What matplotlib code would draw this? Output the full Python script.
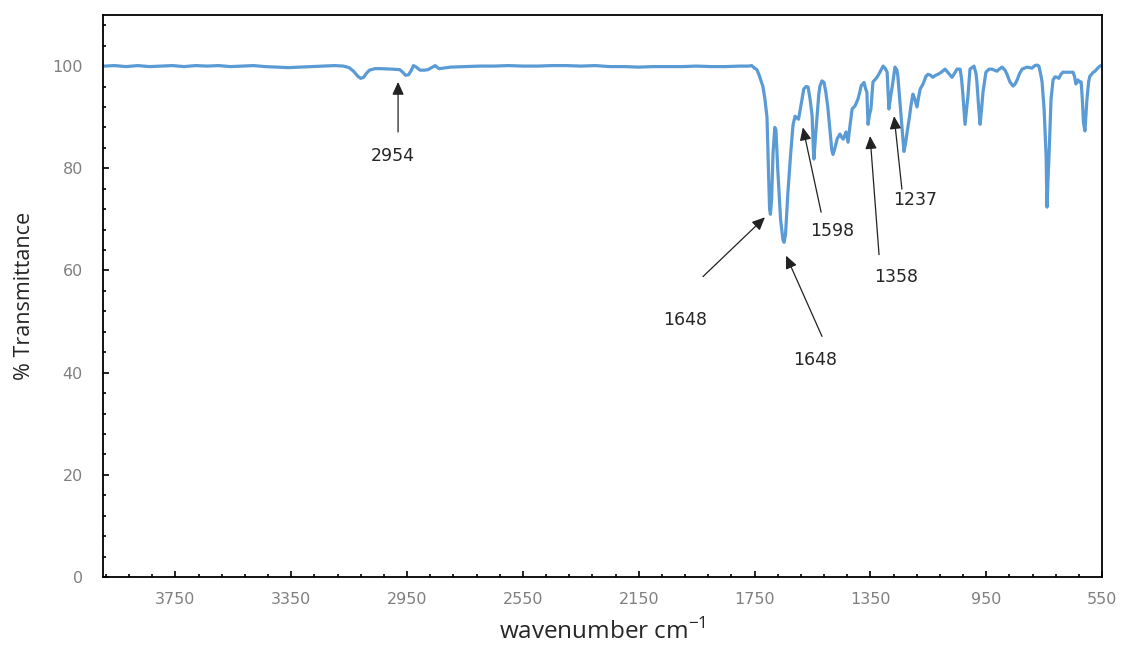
import matplotlib
matplotlib.use("Agg")
import matplotlib.pyplot as plt
from matplotlib.ticker import MultipleLocator

# ---- spectrum data (wavenumber cm-1, % transmittance) ----
wavenumber = [
    3995, 3960, 3920, 3880, 3840, 3800, 3760, 3720, 3680, 3640, 3600, 3560, 3520, 3480,
    3440, 3400, 3360, 3320, 3280, 3240, 3200, 3170, 3150, 3135, 3120, 3110, 3100, 3090,
    3080, 3060, 3040, 3000, 2975, 2965, 2955, 2945, 2935, 2928, 2918, 2905, 2890, 2878,
    2865, 2853, 2840, 2825, 2800, 2750, 2700, 2650, 2600, 2550, 2500, 2450, 2400, 2350,
    2300, 2250, 2200, 2150, 2100, 2050, 2000, 1950, 1900, 1850, 1800, 1770, 1760, 1750,
    1742, 1735, 1728, 1721, 1714, 1707, 1702, 1698, 1695, 1691, 1686, 1680, 1676, 1670,
    1660, 1652, 1648, 1643, 1635, 1625, 1617, 1610, 1603, 1598, 1592, 1586, 1580, 1572,
    1565, 1558, 1551, 1547, 1545, 1541, 1534, 1528, 1524, 1517, 1510, 1504, 1497, 1489,
    1483, 1479, 1472, 1465, 1455, 1448, 1444, 1438, 1434, 1430, 1427, 1420, 1413, 1403,
    1393, 1386, 1382, 1372, 1366, 1362, 1358, 1353, 1348, 1341, 1332, 1327, 1317, 1306,
    1298, 1292, 1288, 1286, 1280, 1272, 1265, 1258, 1255, 1248, 1241, 1234, 1228, 1223,
    1215, 1210, 1203, 1196, 1189, 1183, 1178, 1168, 1158, 1151, 1142, 1134, 1125, 1116,
    1105, 1092, 1080, 1068, 1060, 1051, 1040, 1035, 1030, 1023, 1013, 1006, 992, 985,
    982, 976, 971, 966, 961, 951, 940, 930, 913, 905, 895, 885, 878, 868, 857, 850, 843,
    835, 826, 809, 800, 792, 782, 774, 768, 762, 757, 750, 743, 740, 737, 733, 726, 719,
    712, 705, 699, 692, 685, 675, 661, 650, 645, 640, 636, 633, 628, 622, 618, 614, 609,
    605, 602, 596, 592, 580, 574, 565, 557, 550,
]
transmittance = [
    100.0, 100.1, 99.9, 100.1, 99.9, 100.0, 100.1, 99.9, 100.1, 100.0, 100.1, 99.9, 100.0, 100.1,
    99.9, 99.8, 99.7, 99.8, 99.9, 100.0, 100.1, 100.0, 99.7, 99.0, 98.0, 97.6, 97.8, 98.6,
    99.2, 99.5, 99.5, 99.4, 99.3, 98.8, 98.2, 98.3, 99.2, 100.1, 99.8, 99.2, 99.2, 99.3,
    99.7, 100.1, 99.5, 99.6, 99.8, 99.9, 100.0, 100.0, 100.1, 100.0, 100.0, 100.1, 100.1, 100.0,
    100.1, 99.9, 99.9, 99.8, 99.9, 99.9, 99.9, 100.0, 99.9, 99.9, 100.0, 100.0, 100.1, 99.6,
    99.3, 98.4, 97.2, 96.0, 93.5, 90.0, 80.0, 72.0, 71.0, 74.0, 83.0, 88.0, 87.5, 80.0,
    70.0, 66.0, 65.5, 67.0, 75.0, 83.0, 88.5, 90.2, 89.8, 89.6, 91.5, 93.5, 95.5, 96.0,
    95.9, 93.5, 90.2, 84.0, 81.8, 85.0, 90.2, 94.5, 96.1, 97.1, 96.8, 95.0, 92.0, 87.1,
    83.5, 82.7, 84.0, 85.7, 86.7, 86.0, 85.7, 86.5, 87.1, 86.0, 85.1, 88.5, 91.6, 92.2,
    93.5, 95.0, 96.1, 96.8, 95.5, 94.9, 88.6, 90.5, 91.6, 96.9, 97.5, 97.8, 98.8, 100.0,
    99.5, 98.8, 94.0, 91.6, 94.0, 96.9, 99.8, 99.2, 98.0, 93.0, 88.2, 83.3, 85.0, 87.1,
    90.0, 92.2, 94.5, 93.5, 92.0, 94.0, 95.5, 96.5, 98.0, 98.4, 98.2, 97.8, 98.2, 98.4,
    98.8, 99.4, 98.6, 97.8, 98.5, 99.4, 99.4, 97.5, 94.1, 88.6, 94.1, 99.4, 100.0, 98.5,
    96.9, 92.0, 88.6, 91.5, 94.9, 98.8, 99.4, 99.4, 99.0, 99.4, 99.8, 99.2, 98.4, 96.9, 96.1, 96.5, 97.3,
    98.5, 99.4, 99.8, 99.7, 99.6, 100.1, 100.2, 100.0, 98.5, 96.9, 91.6, 82.4, 72.4, 77.0, 82.4, 93.5, 97.3,
    97.9, 97.8, 97.6, 98.4, 98.8, 98.8, 98.8, 98.8, 98.0, 96.5, 97.0, 97.3, 96.9, 96.9, 93.5, 89.0, 87.3,
    91.0, 93.5, 97.0, 98.0, 98.8, 99.0, 99.6, 100.0, 100.2,
]

# ---- annotations ----
ann_labels = ["2954", "1648", "1648", "1598", "1358", "1237"]
ann_text_xy = [(2998, 82.4), (1990, 50.4), (1541, 42.5), (1482, 67.8), (1261, 58.8), (1196, 73.7)]
ann_start_xy = [(2981, 87.1), (1928, 58.8), (1517, 47.1), (1520, 71.4), (1320, 63.1), (1241, 75.9)]
ann_tip_xy = [(2981, 96.9), (1714, 70.4), (1641, 62.9), (1583, 88.0), (1351, 86.3), (1268, 90.2)]

x_major_ticks_step = 400
y_major_ticks_step = 20

fig = plt.figure(figsize=(11.26, 6.46), dpi=100)
ax = fig.add_axes([103 / 1126, 1 - 577 / 646, (1102 - 103) / 1126, (577 - 15) / 646])

ax.plot(wavenumber, transmittance, color="#5B9BD5", lw=2.3, solid_joinstyle="round")

ax.set_xlim(4000, 550)
ax.set_ylim(0, 110)

ax.xaxis.set_major_locator(MultipleLocator(x_major_ticks_step, offset=150))
ax.xaxis.set_minor_locator(MultipleLocator(80, offset=70))
ax.yaxis.set_major_locator(MultipleLocator(y_major_ticks_step))
ax.yaxis.set_minor_locator(MultipleLocator(4))

ax.tick_params(axis="both", which="major", direction="in", length=4, width=1.2,
               colors="black", labelcolor="#808080", labelsize=11.5)
ax.tick_params(axis="both", which="minor", direction="in", length=2.5, width=1.2, colors="black")
ax.tick_params(axis="x", which="major", pad=10.5)
ax.tick_params(axis="y", which="major", pad=14.5)

for sp in ax.spines.values():
    sp.set_color("black")
    sp.set_linewidth(1.3)

label_font = ["Open Sans", "DejaVu Sans"]
ax.set_xlabel("wavenumber cm$^{\\mathregular{-1}}$", fontsize=17.5, family=label_font, color="#262626")
ax.set_ylabel("% Transmittance", fontsize=15.5, family=label_font, color="#262626")
ax.xaxis.set_label_coords(0.5, -0.074)
ax.yaxis.set_label_coords(-0.068, 0.5)

for lab, txy, sxy, pxy in zip(ann_labels, ann_text_xy, ann_start_xy, ann_tip_xy):
    ax.text(txy[0], txy[1], lab, ha="center", va="center", fontsize=12.5, color="#262626")
    ax.annotate("", xy=pxy, xytext=sxy,
                arrowprops=dict(arrowstyle="-|>,head_length=0.55,head_width=0.25",
                                color="#222222", lw=0.9, mutation_scale=14,
                                shrinkA=0, shrinkB=0))

fig.savefig("out.png", dpi=100)
